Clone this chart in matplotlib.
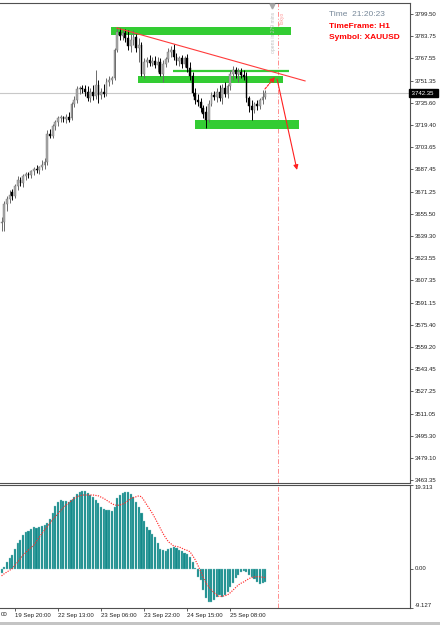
import matplotlib
matplotlib.use('Agg')
import matplotlib.pyplot as plt
import numpy as np
from matplotlib.patches import Rectangle
import matplotlib.transforms as mtransforms

plt.rcParams['font.family'] = ['Liberation Sans', 'DejaVu Sans']

# ---------------- data ----------------
opens = [3648.7, 3649.5, 3662.4, 3666.0, 3671.1, 3668.2, 3675.4, 3679.8, 3677.6, 3682.6,
         3684.1, 3683.4, 3686.2, 3687.7, 3687.0, 3689.1, 3690.6, 3692.7, 3712.9, 3711.5,
         3718.7, 3721.6, 3724.5, 3725.2, 3723.8, 3725.2, 3724.5, 3734.6, 3737.5, 3745.4,
         3746.1, 3745.4, 3743.2, 3738.9, 3743.2, 3740.3, 3748.3, 3741.1, 3743.2, 3741.8,
         3750.4, 3751.9, 3753.3, 3773.5, 3786.5, 3783.6, 3785.8, 3782.2, 3776.4, 3780.7,
         3782.9, 3775.0, 3777.1, 3756.2, 3764.9, 3766.3, 3764.2, 3765.6, 3762.7, 3764.9,
         3756.2, 3763.4, 3767.0, 3772.1, 3773.5, 3768.5, 3765.6, 3767.8, 3763.4, 3767.8,
         3760.5, 3754.8, 3742.5, 3737.5, 3736.0, 3731.7, 3728.8, 3723.0, 3734.6, 3741.1,
         3739.6, 3743.2, 3738.9, 3746.1, 3741.8, 3747.6, 3756.2, 3759.1, 3756.2, 3757.7,
         3755.5, 3754.0, 3738.9, 3733.1, 3730.2, 3734.6, 3733.1, 3737.5, 3739.6]
highs = [3653.1, 3664.6, 3668.2, 3672.5, 3673.3, 3676.9, 3682.6, 3681.9, 3684.1, 3685.5,
         3685.5, 3687.0, 3689.1, 3690.6, 3689.9, 3694.2, 3695.6, 3715.8, 3716.5, 3720.1,
         3723.0, 3725.9, 3726.6, 3725.9, 3727.4, 3728.8, 3736.0, 3740.3, 3747.6, 3747.6,
         3748.3, 3748.3, 3747.6, 3746.1, 3748.3, 3759.1, 3751.9, 3746.1, 3749.0, 3753.3,
         3754.8, 3754.8, 3775.0, 3790.1, 3789.4, 3788.0, 3788.7, 3788.0, 3785.1, 3788.0,
         3785.1, 3782.2, 3779.3, 3767.8, 3768.5, 3769.9, 3768.5, 3769.2, 3768.5, 3767.8,
         3766.3, 3768.5, 3775.0, 3776.4, 3777.9, 3771.4, 3769.2, 3769.9, 3769.2, 3770.6,
         3764.9, 3757.7, 3746.1, 3741.8, 3738.9, 3733.9, 3733.1, 3737.5, 3743.2, 3744.0,
         3746.1, 3748.3, 3749.0, 3750.4, 3749.0, 3759.1, 3762.0, 3761.3, 3760.5, 3760.5,
         3759.1, 3757.7, 3740.3, 3737.5, 3736.0, 3737.5, 3738.9, 3744.7, 3744.7]
lows = [3643.0, 3643.0, 3657.4, 3663.2, 3665.3, 3666.8, 3672.5, 3675.4, 3674.7, 3679.8,
        3681.2, 3681.2, 3683.4, 3684.8, 3684.1, 3687.0, 3687.7, 3690.6, 3710.1, 3710.1,
        3715.8, 3718.7, 3721.6, 3721.6, 3720.9, 3721.6, 3723.0, 3732.4, 3735.3, 3741.8,
        3742.5, 3740.3, 3736.7, 3736.0, 3737.5, 3738.2, 3735.3, 3738.2, 3739.6, 3740.3,
        3747.6, 3749.0, 3751.9, 3772.1, 3780.7, 3780.7, 3779.3, 3773.5, 3772.1, 3777.1,
        3772.1, 3764.9, 3754.8, 3753.3, 3761.3, 3762.0, 3762.0, 3760.5, 3757.7, 3754.8,
        3750.4, 3761.3, 3764.9, 3768.5, 3766.3, 3762.7, 3762.0, 3760.5, 3761.3, 3757.7,
        3751.9, 3740.3, 3734.6, 3733.1, 3728.8, 3724.5, 3717.3, 3721.6, 3733.1, 3737.5,
        3736.0, 3736.7, 3734.6, 3739.6, 3738.9, 3744.7, 3751.9, 3753.3, 3750.4, 3753.3,
        3751.9, 3736.0, 3728.8, 3723.0, 3728.1, 3730.2, 3731.0, 3734.6, 3738.2]
closes = [3649.5, 3662.4, 3666.0, 3668.9, 3668.2, 3675.4, 3679.8, 3677.6, 3682.6, 3684.1,
          3683.4, 3686.2, 3687.7, 3687.0, 3689.1, 3690.6, 3692.7, 3712.9, 3711.5, 3718.7,
          3721.6, 3724.5, 3725.2, 3723.8, 3725.2, 3723.0, 3734.6, 3737.5, 3745.4, 3746.1,
          3745.4, 3743.2, 3738.9, 3743.2, 3740.3, 3748.3, 3741.1, 3743.2, 3741.8, 3750.4,
          3751.9, 3753.3, 3773.5, 3786.5, 3783.6, 3785.8, 3782.2, 3776.4, 3780.7, 3782.9,
          3775.0, 3777.1, 3756.2, 3764.9, 3766.3, 3764.2, 3765.6, 3762.7, 3764.9, 3756.2,
          3763.4, 3767.0, 3772.1, 3773.5, 3768.5, 3765.6, 3767.8, 3763.4, 3767.8, 3760.5,
          3754.8, 3742.5, 3737.5, 3736.0, 3731.7, 3727.4, 3723.0, 3734.6, 3741.1, 3739.6,
          3743.2, 3738.9, 3746.1, 3741.8, 3747.6, 3756.2, 3759.1, 3756.2, 3757.7, 3755.5,
          3754.0, 3738.9, 3733.1, 3730.2, 3734.6, 3733.1, 3737.5, 3739.6, 3742.35]

macd_hist = [-1.1, 0.3, 1.6, 2.4, 3.1, 4.5, 5.8, 6.7, 7.7, 8.4,
             8.7, 9.2, 9.5, 9.3, 9.7, 9.9, 10.1, 10.6, 11.4, 12.8,
             14.5, 15.4, 15.8, 15.7, 15.6, 15.4, 15.8, 16.5, 17.2, 17.8,
             18.0, 18.0, 17.4, 17.0, 16.5, 15.8, 15.1, 14.3, 13.8, 13.6,
             13.5, 13.4, 14.3, 16.2, 17.0, 17.5, 17.8, 17.8, 17.2, 16.5,
             15.4, 14.3, 12.8, 11.1, 9.7, 8.9, 8.0, 7.2, 5.8, 4.5,
             4.3, 4.1, 4.4, 4.7, 5.0, 4.7, 4.3, 4.0, 3.7, 3.4,
             2.7, 1.6, 0.1, -1.9, -2.7, -5.0, -6.9, -7.7, -7.7, -7.3,
             -6.5, -6.1, -6.5, -6.1, -5.4, -4.3, -3.4, -2.3, -1.5, -0.7,
             -0.5, -0.7, -1.5, -2.0, -2.5, -3.1, -3.6, -3.4, -3.1]
macd_signal = [-1.7, -1.2, -0.8, -0.4, 0.0, 0.8, 1.5, 2.3, 3.1, 3.7,
               4.3, 4.9, 5.4, 6.3, 7.2, 8.1, 8.9, 9.7, 10.5, 11.3,
               12.0, 12.7, 13.4, 14.1, 14.7, 15.2, 15.7, 16.2, 16.6, 16.8,
               17.0, 17.0, 17.0, 17.0, 17.0, 16.9, 16.8, 16.5, 16.2, 15.8,
               15.4, 15.0, 14.7, 14.6, 14.7, 14.9, 15.2, 15.7, 16.2, 16.4,
               16.6, 16.8, 16.6, 15.7, 14.7, 13.8, 12.8, 11.7, 10.5, 9.3,
               8.1, 7.1, 6.2, 5.7, 5.2, 5.1, 5.0, 4.7, 4.4, 4.2,
               3.9, 3.0, 2.0, 0.7, -0.7, -2.1, -3.4, -4.2, -5.0, -5.6,
               -6.1, -6.5, -6.4, -6.3, -6.1, -5.6, -5.0, -4.4, -3.8, -3.4,
               -3.1, -2.7, -2.3, -2.1, -1.9, -1.9, -1.9, -2.0, -2.1]

price_ticks = [3799.50, 3783.75, 3767.55, 3751.35, 3735.60, 3719.40, 3703.65, 3687.45,
               3671.25, 3655.50, 3639.30, 3623.55, 3607.35, 3591.15, 3575.40, 3559.20,
               3543.45, 3527.25, 3511.05, 3495.30, 3479.10, 3463.35]
time_tick_bars = [5, 21, 37, 53, 69, 85]
time_tick_labels = ['19 Sep 20:00', '22 Sep 13:00', '23 Sep 06:00',
                    '23 Sep 22:00', '24 Sep 15:00', '25 Sep 08:00']
edge_label = '00'   # visible tail of the previous time label at the left edge
current_price = 3742.35
macd_max, macd_min = 19.313, -9.127

# zones: (bar start, bar end, price low, price high)
zone_bars = [(40.7, 107.6), (50.7, 104.6), (71.9, 110.6)]
zone_prices = [(3784.0, 3790.1), (3749.7, 3754.8), (3716.5, 3723.0)]
level_line = (63.7, 106.9, 3758.7)
trend_line = ((42.8, 3789.4), (112.8, 3751.2))
arrow_up = ((97.9, 3745.4), (101.6, 3754.0))
arrow_down = ((102.4, 3752.6), (109.8, 3687.0))
shift_bar = 102.8

# ---------------- figure ----------------
W, H = 440, 625
fig = plt.figure(figsize=(W / 100, H / 100), dpi=100)
fig.patch.set_facecolor('white')

def fx(px):
    return px / W

def fy(py):
    return 1 - py / H

ax = fig.add_axes([0, fy(483), fx(410), fy(3) - fy(483)])
ax2 = fig.add_axes([0, fy(608), fx(410), fy(485) - fy(608)])

xlim = (-0.58, 151.8)
for a in (ax, ax2):
    a.set_facecolor('white')
    a.spines['left'].set_visible(False)
    for s in ('top', 'right', 'bottom'):
        a.spines[s].set_color('#505050')
        a.spines[s].set_linewidth(0.8)

idx = np.arange(len(closes))
o = np.array(opens); h = np.array(highs); l = np.array(lows); c = np.array(closes)
bull = c >= o

# current price line
ax.axhline(current_price, color='#c8c8c8', lw=0.8, zorder=1)

# zones
for (b0, b1), (p0, p1) in zip(zone_bars, zone_prices):
    ax.add_patch(Rectangle((b0, p0), b1 - b0, p1 - p0, facecolor='#33cc33',
                           edgecolor='none', zorder=2))
ax.plot([level_line[0], level_line[1]], [level_line[2], level_line[2]],
        color='#33cc33', lw=1.6, zorder=2, solid_capstyle='butt')

# candles
ax.vlines(idx, l, h, colors=np.where(bull, '#6a6a6a', '#000000'), lw=0.7, zorder=3)
body_bottom = np.minimum(o, c)
body_h = np.maximum(np.abs(c - o), 0.5)
ax.bar(idx, body_h, bottom=body_bottom, width=0.66,
       color=np.where(bull, '#a9a9a9', '#000000'),
       edgecolor=np.where(bull, '#777777', '#000000'), linewidth=0.3, zorder=4)

# trend line
(tx0, ty0), (tx1, ty1) = trend_line
ax.plot([tx0, tx1], [ty0, ty1], color='#ff3b3b', lw=0.8, zorder=5)

# arrows
ax.annotate('', xy=arrow_up[1], xytext=arrow_up[0],
            arrowprops=dict(arrowstyle='-|>', color='#ff2020', lw=0.8,
                            linestyle=(0, (2, 1.2)), mutation_scale=7,
                            shrinkA=0, shrinkB=0), zorder=6)
ax.annotate('', xy=arrow_down[1], xytext=arrow_down[0],
            arrowprops=dict(arrowstyle='-|>', color='#ff2020', lw=0.8,
                            mutation_scale=7, shrinkA=0, shrinkB=0), zorder=6)

# vertical shift line
for a in (ax, ax2):
    a.axvline(shift_bar, color='#ff8c8c', lw=0.7, linestyle=(0, (5, 2, 1, 2)), zorder=1)

# shift marker triangle
ax.plot([100.6], [3805.3], marker='v', color='#a8a8a8', markersize=3.5, zorder=6, clip_on=False)

# vertical session texts
ax.text(100.9, 3786.0, 'opens in 279 mins', rotation=90, fontsize=3.6, color='#c0c0c0',
        ha='center', va='center', zorder=6)
ax.text(104.3, 3796.0, 'Tokyo', rotation=90, fontsize=3.6, color='#ff9a9a',
        ha='center', va='center', zorder=6)

# info texts
fig.text(fx(329), fy(14.5), 'Time  21:20:23', fontsize=6, color='#778899', va='center', ha='left')
fig.text(fx(329), fy(26.7), 'TimeFrame: H1', fontsize=6, color='#ff0000', fontweight='bold',
         va='center', ha='left')
fig.text(fx(329), fy(37.7), 'Symbol: XAUUSD', fontsize=6, color='#ff0000', fontweight='bold',
         va='center', ha='left')

# price axis
ax.yaxis.tick_right()
ax.set_yticks(price_ticks)
ax.set_yticklabels(['%.2f' % v for v in price_ticks])
ax.tick_params(axis='y', direction='out', length=2.2, width=0.5, pad=1.2,
               labelsize=4.3, colors='#202020')
ax.set_xticks([])

# current price label
trans = mtransforms.blended_transform_factory(ax.transAxes, ax.transData)
ax.text(1.0, current_price, ' 3742.35  ', transform=trans, fontsize=4.3, color='white',
        va='center', ha='left', zorder=10,
        bbox=dict(boxstyle='square,pad=0.25', facecolor='black', edgecolor='black'))

# MACD panel
ax2.bar(idx, macd_hist, width=0.78, color='#138a8a', edgecolor='#8cc9c9', linewidth=0.25, zorder=3)
ax2.plot(idx, macd_signal, color='#ff2a2a', lw=0.85, linestyle=(0, (1, 1.1)), zorder=4)
ax2.yaxis.tick_right()
ax2.set_yticks([macd_max, 0.0, macd_min])
ax2.set_yticklabels(['19.313', '0.00', '-9.127'])
ax2.tick_params(axis='y', direction='out', length=2.2, width=0.5, pad=1.2,
                labelsize=4.3, colors='#202020')
for lbl, va in zip(ax2.get_yticklabels(), ['top', 'center', 'bottom']):
    lbl.set_verticalalignment(va)

ax2.set_xticks(time_tick_bars)
ax2.set_xticklabels(time_tick_labels)
ax2.tick_params(axis='x', direction='out', length=2.5, width=0.5, pad=0.8,
                labelsize=4.3, colors='#202020')
for lbl in ax2.get_xticklabels():
    lbl.set_horizontalalignment('left')

# tail of the previous label at the left edge
fig.text(fx(0.3), fy(615), edge_label, fontsize=4.3, color='#202020', ha='left', va='center')

ax.set_xlim(*xlim)
ax2.set_xlim(*xlim)
ax.set_ylim(3461.2, 3807.4)
ax2.set_ylim(macd_min, macd_max)

# bottom gray strip
fig.patches.append(Rectangle((0, 0), 1, 3 / H, transform=fig.transFigure,
                             facecolor='#c4c4c4', edgecolor='none'))

fig.savefig('out.png', dpi=100, facecolor='white')
